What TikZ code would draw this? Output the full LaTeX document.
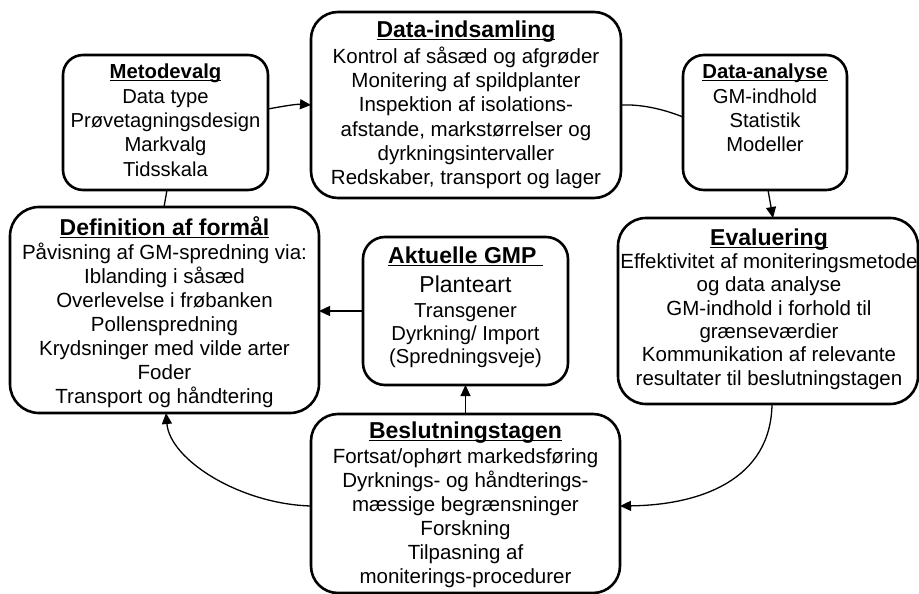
\documentclass[tikz,border=0pt]{standalone}
\usepackage{fontspec}
\setmainfont{Liberation Sans}
\usetikzlibrary{arrows.meta,calc}
\newsavebox\hulbox
\newcommand\hul[1]{\sbox\hulbox{#1}\rlap{\rule[-3.2pt]{\wd\hulbox}{1.9pt}}\usebox\hulbox}
\newcommand\hd[2]{{\fontsize{#1}{24}\selectfont\bfseries\rule{0pt}{22pt}\hul{#2}}}
\begin{document}
\begin{tikzpicture}[x=1pt,y=-1pt,
 box/.style={draw, line width=2.6pt, rounded corners=#1, inner sep=0pt, outer sep=0pt, anchor=north west},
 box/.default=24pt,
 txt/.style={inner sep=0pt, align=center, anchor=north},
 conn/.style={line width=1.3pt},
 arr/.style={conn, -{Triangle[length=11pt,width=10pt]}}]
\useasboundingbox (0,0) rectangle (919,594);
% boxes
\node[box=20pt, minimum width=205pt, minimum height=135pt] (met) at (63,55) {};
\node[box=27pt, minimum width=310pt, minimum height=186pt] (din) at (311,12) {};
\node[box=21pt, minimum width=164pt, minimum height=135pt] (dan) at (683,55) {};
\node[box=29pt, minimum width=309pt, minimum height=206pt] (def) at (10,207) {};
\node[box=22pt, minimum width=205pt, minimum height=148pt] (akt) at (363,237) {};
\node[box=28pt, minimum width=300pt, minimum height=186pt] (eva) at (618,218) {};
\node[box=27pt, minimum width=309pt, minimum height=179pt] (bes) at (311,414) {};
% texts
\node[txt, font=\fontsize{20.2}{24.3}\selectfont] (mett) at (165.5,56)
 {\hd{20.3}{Metodevalg}\\[0.6pt] Data type\\ Prøvetagningsdesign\\ Markvalg\\ Tidsskala};
\node[txt, font=\fontsize{20.5}{24.3}\selectfont] (dint) at (466,15)
 {\hd{23}{Data-indsamling}\\[1.6pt] Kontrol af såsæd og afgrøder\\ Monitering af spildplanter\\ Inspektion af isolations-\\ afstande, markstørrelser og\\ dyrkningsintervaller\\ Redskaber, transport og lager};
\node[txt, font=\fontsize{20.2}{24.2}\selectfont] (dant) at (765,56)
 {\hd{20.3}{Data-analyse}\\[0.6pt] GM-indhold\\ Statistik\\ Modeller};
\node[txt, font=\fontsize{20.5}{24}\selectfont] (deft) at (164.5,213)
 {\hd{23}{Definition af formål}\\ Påvisning af GM-spredning via:\\ Iblanding i såsæd\\ Overlevelse i frøbanken\\ Pollenspredning\\ Krydsninger med vilde arter\\ Foder\\ Transport og håndtering};
\node[txt, font=\fontsize{20.2}{23.3}\selectfont] (aktt) at (465.5,241)
 {\hd{23}{Aktuelle GMP\ }\\[5.7pt] {\fontsize{23}{23.3}\selectfont Planteart}\\[1.7pt] Transgener\\ Dyrkning/ Import\\ (Spredningsveje)};
\node[txt, font=\fontsize{20.5}{23.4}\selectfont] (evat) at (769,223)
 {\hd{23}{Evaluering}\\[-0.4pt] Effektivitet af moniteringsmetode\\ og data analyse\\ GM-indhold i forhold til\\ grænseværdier\\ Kommunikation af relevante\\ resultater til beslutningstagen};
\node[txt, font=\fontsize{20.5}{24}\selectfont] (best) at (465.5,416)
 {\hd{23}{Beslutningstagen}\\[1pt] Fortsat/ophørt markedsføring\\ Dyrknings- og håndterings-\\ mæssige begrænsninger\\ Forskning\\ Tilpasning af\\ moniterings-procedurer};
% connectors
\draw[arr] ($(met.east)+(0,-13.5)$) .. controls (284,106) and (297,104) .. (din.west);
\draw[conn] (din.east) .. controls (645,104) and (668,111) .. ($(dan.west)+(0,-5.5)$);
\draw[arr] ($(dan.south)+(3,0)$) -- ($(eva.north)+(5,0)$);
\draw[arr] ($(eva.south)+(4,0)$) .. controls (771,480) and (700,505) .. ($(bes.east)+(0,2.5)$);
\draw[arr] ($(bes.west)+(0,2.5)$) .. controls (240,504) and (170,460) .. ($(def.south)+(1.5,0)$);
\draw[arr, line width=1pt] (bes.north) -- (akt.south);
\draw[arr] (akt.west) -- (akt.west -| def.east);
\draw[conn] ($(met.south)+(1.5,0)$) -- ($(def.north)+(-0.5,0)$);
\end{tikzpicture}
\end{document}
